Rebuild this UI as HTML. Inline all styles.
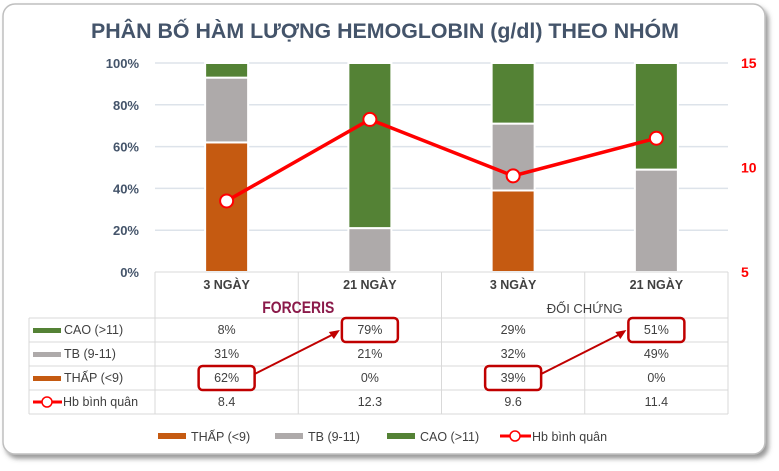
<!DOCTYPE html>
<html><head><meta charset="utf-8">
<style>
html,body{margin:0;padding:0;background:#fff;width:779px;height:471px;overflow:hidden;font-family:"Liberation Sans",sans-serif;}
</style></head>
<body>
<svg id="chart" width="779" height="471" viewBox="0 0 779 471" xmlns="http://www.w3.org/2000/svg" font-family="Liberation Sans, sans-serif">
<defs>
<filter id="sh" x="-5%" y="-5%" width="110%" height="115%"><feDropShadow dx="3" dy="4" stdDeviation="2.5" flood-color="#555" flood-opacity="0.6"/></filter>
</defs>
<rect x="3" y="4" width="762" height="450" rx="12" fill="#fff" stroke="#bfbfbf" stroke-width="1.5" filter="url(#sh)"/>
<text x="385" y="38" text-anchor="middle" font-size="21" font-weight="bold" fill="#44546a" textLength="588" lengthAdjust="spacingAndGlyphs">PHÂN BỐ HÀM LƯỢNG HEMOGLOBIN (g/dl) THEO NHÓM</text>
<g id="grid"></g>
<g id="bars"></g>
<g id="line"></g>
<g id="table"></g>
<g id="legend"></g>
</svg>
<script>
const categories=["3 NGÀY","21 NGÀY","3 NGÀY","21 NGÀY"];
const groups=["FORCERIS","ĐỐI CHỨNG"];
const thap=[62,0,39,0];
const tb=[31,21,32,49];
const cao=[8,79,29,51];
const hb=[8.4,12.3,9.6,11.4];
const leftTicks=[0,20,40,60,80,100];
const rightTicks=[5,10,15];
const NS="http://www.w3.org/2000/svg";
const X0=155,X1=728,Y0=272,Y1=63;
const colW=(X1-X0)/categories.length;
const xc=i=>X0+colW*(i+0.5);
const yL=v=>Y0-(v/100)*(Y0-Y1);
const yR=v=>Y0-((v-5)/10)*(Y0-Y1);
function mk(tag,attrs,parent,txt){const e=document.createElementNS(NS,tag);for(const k in attrs)e.setAttribute(k,attrs[k]);if(txt!==undefined)e.textContent=txt;parent.appendChild(e);return e;}
const grid=document.getElementById('grid');
leftTicks.forEach(t=>{
  if(t>0){const l=mk('line',{x1:X0,x2:X1,y1:yL(t),y2:yL(t),stroke:'#dde3ea','stroke-width':1.5},grid);
  
  }
  const tx=mk('text',{x:139,y:yL(t)+5,'text-anchor':'end','font-size':13,'font-weight':'bold',fill:'#44546a'},grid,t+'%');
  
  
});
rightTicks.forEach(t=>{
  const tx=mk('text',{x:741,y:yR(t)+5,'font-size':14,'font-weight':'bold',fill:'#ff0000'},grid,t);
  
  
});
const bars=document.getElementById('bars');
const BW=43;
categories.forEach((c,i)=>{
  let base=0;
  [[thap,'#c55a11','thap'],[tb,'#aeaaaa','tb'],[cao,'#548235','cao']].forEach(([arr,col,nm])=>{
    const v=arr[i];
    if(v>0){
      const top=Math.min(base+v,100);
      const r=mk('rect',{x:xc(i)-BW/2,y:yL(top),width:BW,height:yL(base)-yL(top),fill:col,stroke:'#fff','stroke-width':2},bars);
      
      
    }
    base+=v;
  });
});
const lg=document.getElementById('line');
const pts=hb.map((v,i)=>xc(i)+','+yR(v)).join(' ');
const pl=mk('polyline',{points:pts,fill:'none',stroke:'#ff0000','stroke-width':3.5},lg);


hb.forEach((v,i)=>{
  const c=mk('circle',{cx:xc(i),cy:yR(v),r:6.5,fill:'#fff',stroke:'#ff0000','stroke-width':2},lg);
  
  
});
// table
const tg=document.getElementById('table');
const TL=29, rowY=[318,342,366,390,414];
const lineC='#d9d9d9';
mk('line',{x1:X0,x2:X0,y1:272,y2:414,stroke:lineC},tg);
for(let k=1;k<=4;k++){const x=X0+colW*k;mk('line',{x1:x,x2:x,y1:(k===2||k===4)?272:272,y2:414,stroke:lineC},tg);}
mk('line',{x1:TL,x2:TL,y1:318,y2:414,stroke:lineC},tg);
mk('line',{x1:X0,x2:X1,y1:272,y2:272,stroke:lineC},tg);
rowY.forEach(y=>mk('line',{x1:TL,x2:X1,y1:y,y2:y,stroke:lineC},tg));
categories.forEach((c,i)=>{
  const t=mk('text',{x:xc(i),y:289,'text-anchor':'middle','font-size':12.5,'font-weight':'bold',fill:'#404040'},tg,c);
  
  
});
const g1=mk('text',{x:X0+colW,y:313,'text-anchor':'middle','font-size':17,'font-weight':'bold',fill:'#8b1a4a',textLength:72,lengthAdjust:'spacingAndGlyphs'},tg,groups[0]);


const g2=mk('text',{x:X0+colW*3,y:313,'text-anchor':'middle','font-size':13,fill:'#404040'},tg,groups[1]);


const rows=[['CAO (>11)','#548235',cao,v=>v+'%'],['TB (9-11)','#aeaaaa',tb,v=>v+'%'],['THẤP (<9)','#c55a11',thap,v=>v+'%'],['Hb bình quân','line',hb,v=>v.toFixed(1)]];
rows.forEach((r,ri)=>{
  const cy=rowY[ri]+16;
  if(r[1]==='line'){
    mk('line',{x1:33,x2:62,y1:cy-4,y2:cy-4,stroke:'#ff0000','stroke-width':3},tg);
    mk('circle',{cx:47,cy:cy-4,r:5,fill:'#fff',stroke:'#ff0000','stroke-width':1.5},tg);
  } else {
    mk('rect',{x:33,y:cy-6,width:28,height:5,fill:r[1]},tg);
  }
  const lab=mk('text',{x:r[1]==='line'?63:64,y:cy,'font-size':12.5,fill:'#404040'},tg,r[0]);
  
  
  r[2].forEach((v,i)=>{
    const t=mk('text',{x:xc(i),y:cy,'text-anchor':'middle','font-size':12.5,fill:'#404040'},tg,r[3](v));
    
    
  });
});
// highlight boxes and arrows
function hbox(i,row){const cy=rowY[row]+12;const b=mk('rect',{x:xc(i)-28,y:cy-12,width:56,height:24,rx:4,fill:'none',stroke:'#c00000','stroke-width':2.5},tg);

}
hbox(0,2);hbox(1,0);hbox(2,2);hbox(3,0);
[[0,1],[2,3]].forEach(([a,b])=>{
  const x1=xc(a)+28,y1=rowY[2]+8,x2=xc(b)-30,y2=rowY[0]+12;
  const ar=mk('line',{x1:x1,y1:y1,x2:x2-6,y2:y2+4,stroke:'#c00000','stroke-width':2},tg);
  
  
  mk('polygon',{points:`${x2},${y2} ${x2-11},${y2+2} ${x2-6},${y2+9}`,fill:'#c00000'},tg);
});
// legend
const lgd=document.getElementById('legend');
const items=[['THẤP (<9)','#c55a11',158],['TB (9-11)','#aeaaaa',275],['CAO (>11)','#548235',387],['Hb bình quân','line',500]];
items.forEach(it=>{
  const g=mk('g',{},lgd);
  
  
  if(it[1]==='line'){
    mk('line',{x1:it[2],x2:it[2]+31,y1:436,y2:436,stroke:'#ff0000','stroke-width':3},g);
    mk('circle',{cx:it[2]+15,cy:436,r:5,fill:'#fff',stroke:'#ff0000','stroke-width':1.5},g);
    mk('text',{x:it[2]+32,y:441,'font-size':12.5,fill:'#404040'},g,it[0]);
  } else {
    mk('rect',{x:it[2],y:433,width:28,height:6,fill:it[1]},g);
    mk('text',{x:it[2]+33,y:441,'font-size':12.5,fill:'#404040'},g,it[0]);
  }
});
</script>
</body></html>
